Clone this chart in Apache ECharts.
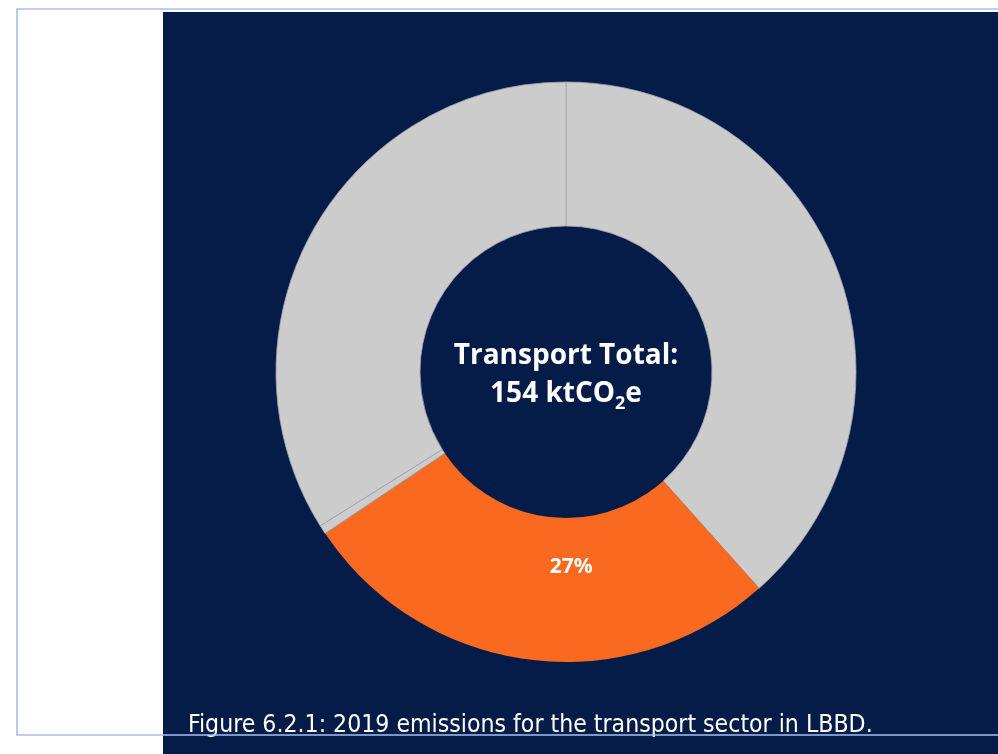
<!DOCTYPE html>
<html>
<head>
<meta charset="utf-8">
<script src="https://cdn.jsdelivr.net/npm/echarts@6/dist/echarts.min.js"></script>
<style>
html,body{margin:0;padding:0;background:#ffffff;}
#chart{width:998px;height:754px;}
</style>
</head>
<body>
<div id="chart"></div>
<script>
// Data (share of transport emissions, %)
const categories = ['Segment A', 'Segment B', 'Segment C', 'Segment D'];
const shares = [38.4, 27.2, 0.5, 33.9];
const sliceColors = ['#CCCCCC', '#FA6920', '#CCCCCC', '#CCCCCC'];
const labelled = [false, true, false, false];
const centreTitle = 'Transport Total:';
const totalValue = 154;
const caption = 'Figure 6.2.1: 2019 emissions for the transport sector in LBBD.';

const chart = echarts.init(document.getElementById('chart'), null, {renderer: 'canvas'});

const data = categories.map((c, i) => ({
  name: c,
  value: shares[i],
  itemStyle: {
    color: sliceColors[i],
    borderColor: i === 1 ? sliceColors[i] : '#A3A3AC',
    borderWidth: i === 1 ? 0 : 0.8
  },
  label: {show: labelled[i]}
}));

const bold = {fontFamily: 'Open Sans', fontWeight: 'bold', fill: '#ffffff', align: 'center'};

chart.setOption({
  animation: false,
  graphic: [
    {type: 'rect', z: 0, silent: true, shape: {x: 163, y: 12, width: 840, height: 750}, style: {fill: '#061C48'}},
    {type: 'rect', z: 100, silent: true, shape: {x: 17, y: 9, width: 1000, height: 726}, style: {fill: 'none', stroke: '#A6BFF0', lineWidth: 1.6}},
    {type: 'text', z: 50, silent: true, x: 566, y: 337,
      style: {
        x: 0, y: 0, align: 'center', verticalAlign: 'top',
        text: '{t|' + centreTitle + '}\n{a|' + totalValue + ' ktCO}{s|2}{a|e}',
        rich: {
          t: Object.assign({fontSize: 28, lineHeight: 38}, bold),
          a: Object.assign({fontSize: 28, lineHeight: 38}, bold),
          s: Object.assign({fontSize: 18, lineHeight: 38, verticalAlign: 'bottom', padding: [14, 0, 0, 0]}, bold)
        }
      }
    },
    {type: 'text', z: 50, silent: true, left: 188, top: 713,
      style: {text: caption, fontFamily: 'DejaVu Sans Condensed, Liberation Sans Narrow, DejaVu Sans', fontSize: 24.6, fill: '#ffffff'}}
  ],
  series: [{
    type: 'pie',
    center: [566, 372],
    radius: [146, 290],
    startAngle: 90,
    clockwise: true,
    avoidLabelOverlap: false,
    labelLine: {show: false},
    label: {
      position: 'inside',
      formatter: p => Math.round(p.value) + '%',
      color: '#ffffff',
      fontFamily: 'Open Sans',
      fontWeight: 'bold',
      fontSize: 21,
      offset: [33, -24]
    },
    emphasis: {disabled: true},
    data: data
  }]
});
</script>
</body>
</html>
